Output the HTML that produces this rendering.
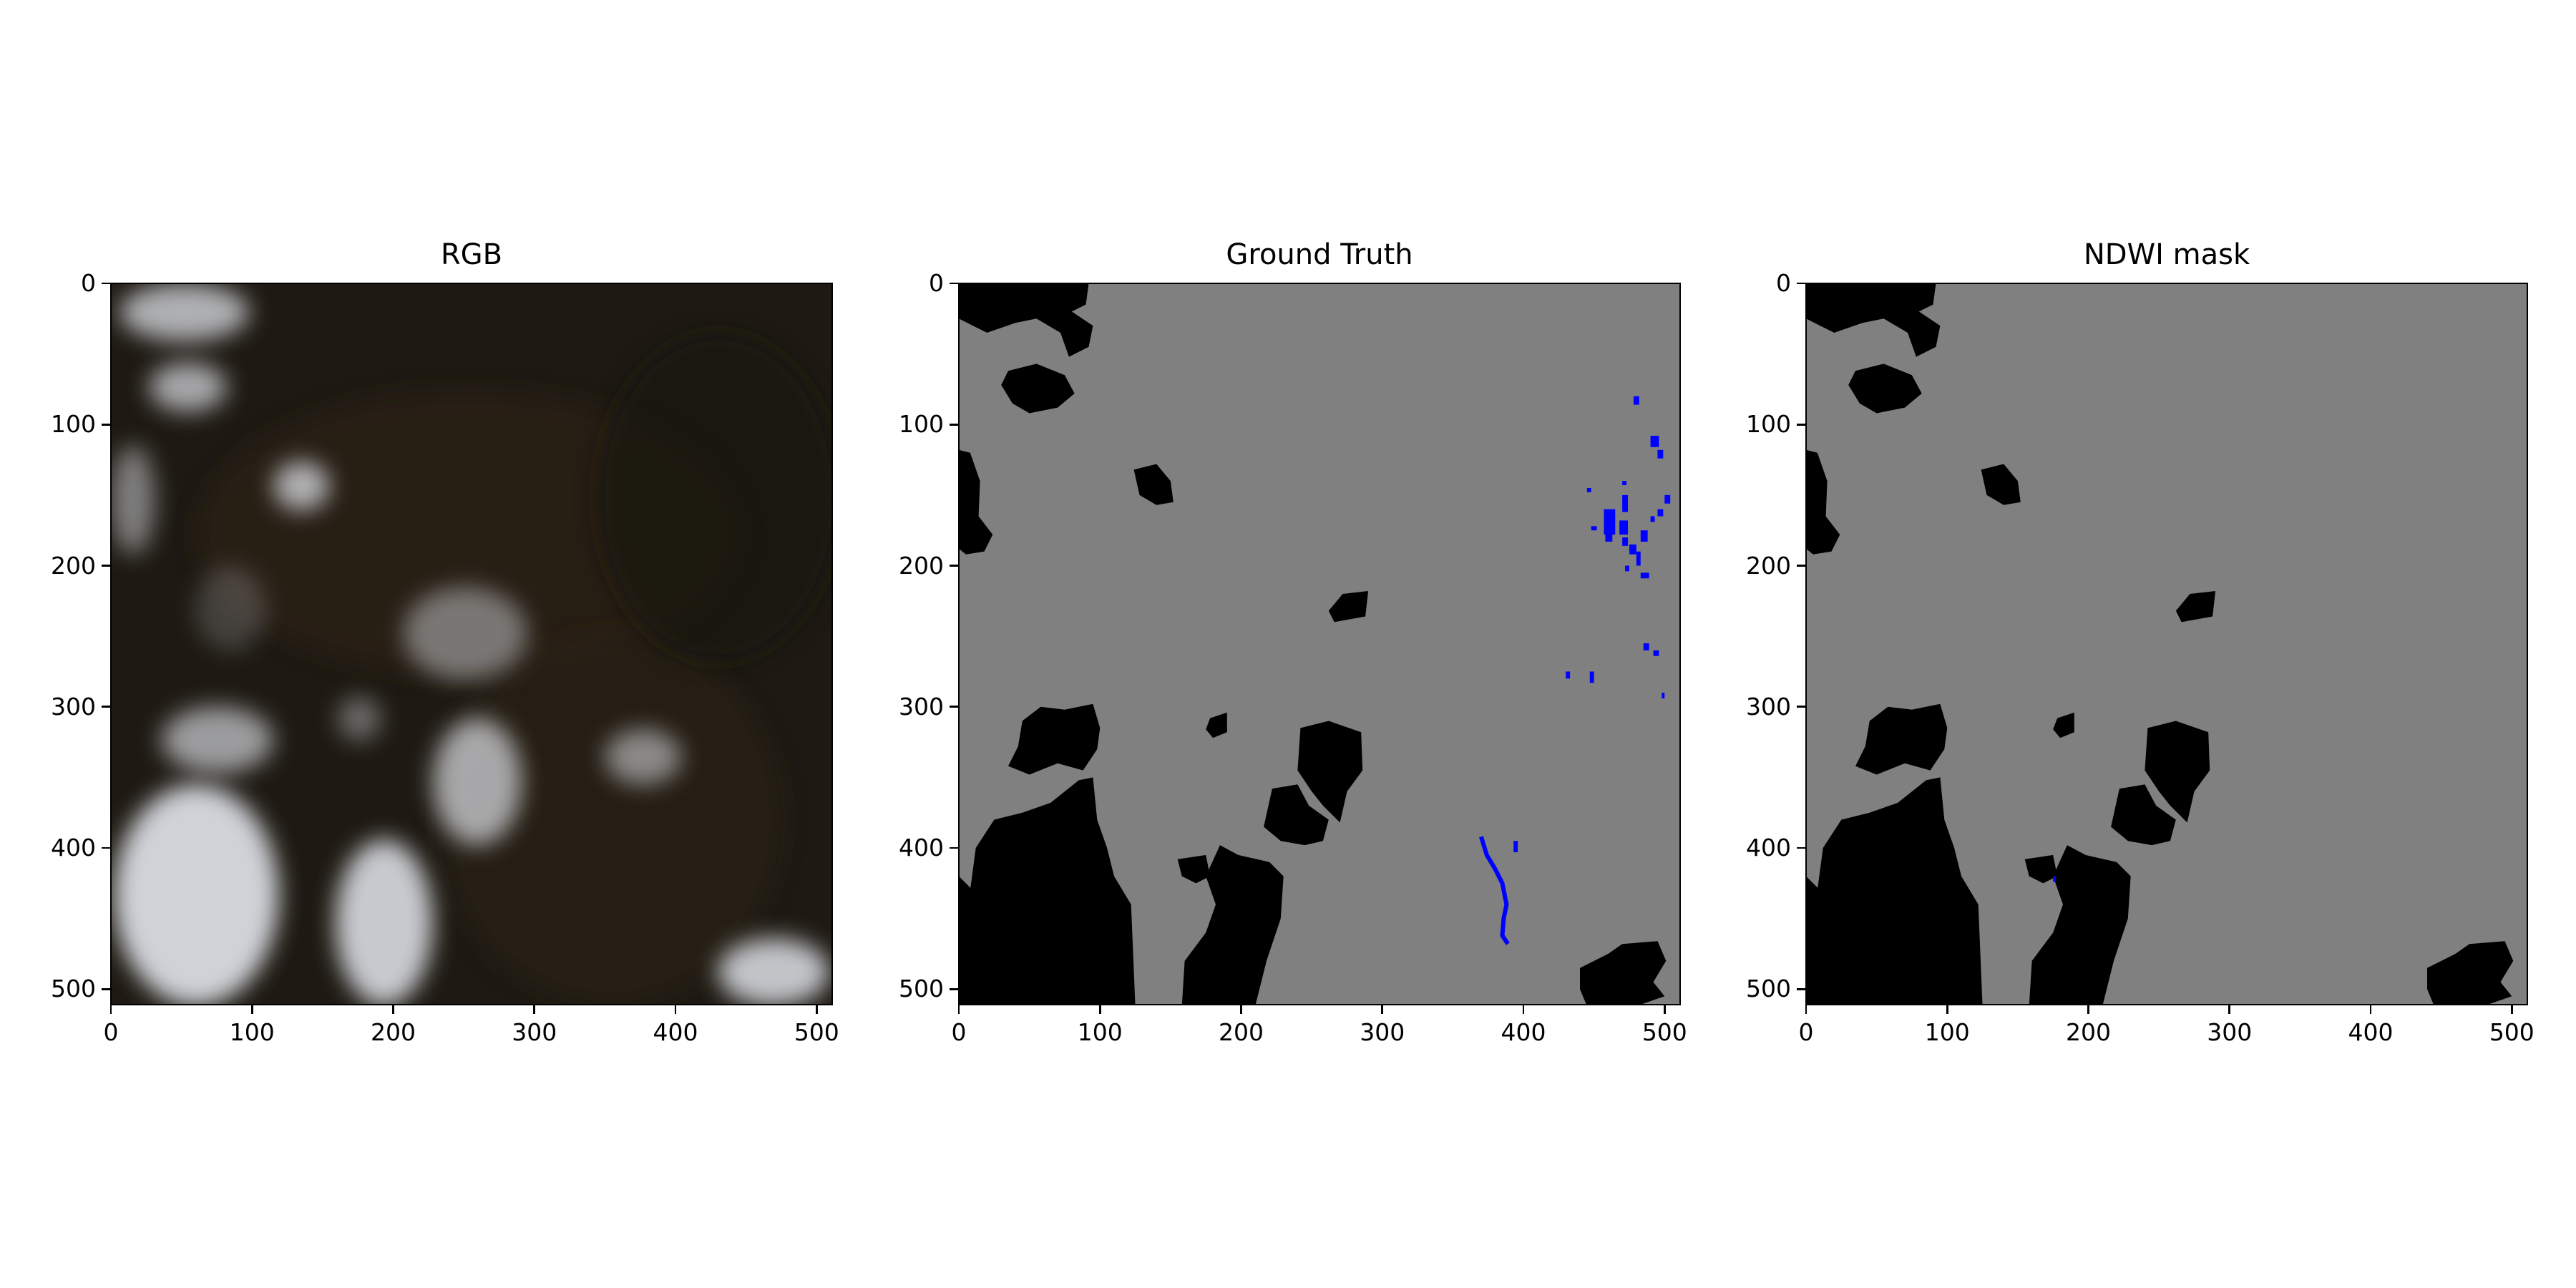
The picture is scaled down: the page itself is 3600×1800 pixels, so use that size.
<!DOCTYPE html>
<html><head><meta charset="utf-8">
<style>
body{margin:0;background:#fff;}
#fig{position:relative;width:3600px;height:1800px;background:#fff;font-family:"DejaVu Sans","Liberation Sans",sans-serif;color:#000;}
.title{position:absolute;font-size:40px;text-align:center;width:1010px;top:333px;}
.ax{position:absolute;top:395px;width:1010px;height:1010px;box-sizing:border-box;}
.frame{position:absolute;left:0;top:0;width:1010px;height:1010px;border:2.7px solid #000;box-sizing:border-box;pointer-events:none;}
.tl{position:absolute;font-size:33px;white-space:nowrap;}
.tk{position:absolute;background:#000;}
svg{position:absolute;left:0;top:0;}
</style></head><body>
<div id="fig"></div>
<script>
const tickValues=[0,100,200,300,400,500];
const panelTitles=["RGB","Ground Truth","NDWI mask"];
const panelLefts=[154,1339,2523];
// cloud blobs in RGB image: [x0,x1,y0,y1,opacity]
const cloudX0=[6,27,115,0,207,36,2,159,228,350,430,161,60];
const cloudX1=[98,82,155,31,295,115,119,228,291,404,509,191,110];
const cloudY0=[0,56,126,115,215,300,355,394,308,316,464,293,200];
const cloudY1=[41,91,161,192,281,347,512,512,398,355,512,324,260];
const cloudA=[0.75,0.7,0.75,0.5,0.45,0.65,0.92,0.88,0.7,0.55,0.85,0.4,0.2];
const blobs=[
[[0,0],[92,0],[90,15],[80,20],[95,30],[92,45],[78,52],[72,35],[55,25],[40,28],[20,35],[10,30],[0,25]],
[[35,62],[55,57],[75,65],[82,78],[70,88],[50,92],[38,85],[30,72]],
[[0,118],[8,120],[15,140],[14,165],[24,178],[18,190],[5,192],[0,188]],
[[124,132],[140,128],[150,140],[152,155],[140,157],[128,150]],
[[272,220],[290,218],[288,236],[266,240],[262,232]],
[[178,308],[190,304],[190,318],[180,322],[175,316]],
[[45,310],[58,300],[75,302],[95,298],[100,315],[98,330],[88,345],[70,340],[50,348],[35,342],[42,328]],
[[85,352],[95,350],[98,380],[105,400],[110,420],[122,440],[125,512],[0,512],[0,440],[8,430],[12,400],[25,380],[45,375],[65,368]],
[[242,315],[262,310],[285,318],[286,345],[275,360],[270,382],[258,370],[250,360],[240,345]],
[[222,358],[240,355],[248,370],[262,380],[258,395],[245,398],[228,395],[216,385]],
[[185,398],[198,405],[220,410],[230,420],[228,450],[218,480],[210,512],[158,512],[160,480],[175,460],[182,440],[175,420]],
[[155,408],[175,405],[178,420],[168,425],[158,420]],
[[440,485],[460,475],[470,468],[495,466],[501,480],[492,495],[500,505],[480,512],[445,512],[440,500]],
[[0,420],[10,430],[0,440]]
];
const waterX=[478,490,495,470,470,490,445,457,448,458,468,470,475,480,483,495,500,472,483,485,447,498,492,393,430];
const waterY=[80,108,118,140,150,165,145,160,172,175,168,180,185,190,175,160,150,200,205,255,275,290,260,395,275];
const waterW=[4,6,4,3,4,3,3,8,4,5,6,4,5,3,5,4,4,3,6,4,3,2,4,3,3];
const waterH=[6,8,6,3,12,4,3,18,3,8,10,6,7,10,8,5,6,4,4,5,8,4,4,8,5];
const riverPts=[[370,392],[374,405],[380,415],[385,425],[388,440],[386,450],[385,462],[389,468]];

const fig=document.getElementById('fig');
const W=1010;
const S=W/512;
const NS='http://www.w3.org/2000/svg';
function px(v){return (v+0.5)*S;}
function polyStr(p){return p.map(q=>px(q[0]).toFixed(1)+','+px(q[1]).toFixed(1)).join(' ');}

panelTitles.forEach((t,i)=>{
  const L=panelLefts[i];
  const title=document.createElement('div');
  title.className='title';title.style.left=L+'px';title.textContent=t;
  
  
  fig.appendChild(title);
  const ax=document.createElement('div');
  ax.className='ax';ax.style.left=L+'px';
  
  
  const svg=document.createElementNS(NS,'svg');
  svg.setAttribute('width',W);svg.setAttribute('height',W);
  let h='';
  if(i===0){
    h+='<defs><filter id="bl" filterUnits="userSpaceOnUse" x="-300" y="-300" width="1700" height="1700"><feGaussianBlur stdDeviation="16"/></filter><clipPath id="cp"><rect width="'+W+'" height="'+W+'"/></clipPath></defs>';
    h+='<rect width="'+W+'" height="'+W+'" fill="#1e1a13"/>';
    h+='<g clip-path="url(#cp)"><ellipse cx="500" cy="350" rx="380" ry="200" fill="#2e2218" opacity="0.6" filter="url(#bl)"/><ellipse cx="700" cy="750" rx="240" ry="260" fill="#2a2118" opacity="0.6" filter="url(#bl)"/><ellipse cx="850" cy="300" rx="170" ry="230" fill="#131510" opacity="0.6" filter="url(#bl)"/>';
    for(let k=0;k<cloudX0.length;k++){
      const cx=px((cloudX0[k]+cloudX1[k])/2),cy=px((cloudY0[k]+cloudY1[k])/2);
      const rx=(cloudX1[k]-cloudX0[k])/2*S,ry=(cloudY1[k]-cloudY0[k])/2*S;
      h+=`<ellipse cx="${cx}" cy="${cy}" rx="${rx}" ry="${ry}" fill="#dfe2e8" opacity="${cloudA[k]}" filter="url(#bl)"/>`;
    }
    h+='</g>';
  } else {
    h+='<rect width="'+W+'" height="'+W+'" fill="#808080"/>';
    blobs.forEach(b=>{h+=`<polygon points="${polyStr(b)}" fill="#000"/>`;});
    if(i===1){
      for(let k=0;k<waterX.length;k++){
        h+=`<rect x="${px(waterX[k])}" y="${px(waterY[k])}" width="${waterW[k]*S}" height="${waterH[k]*S}" fill="#0000ff"/>`;
      }
      h+=`<polyline points="${polyStr(riverPts)}" fill="none" stroke="#0000ff" stroke-width="6"/>`;
    } else {
      h+=`<rect x="${px(175)}" y="${px(420)}" width="4" height="8" fill="#0000ff"/>`;
    }
  }
  svg.innerHTML=h;
  ax.appendChild(svg);
  const fr=document.createElement('div');fr.className='frame';
  
  
  ax.appendChild(fr);
  fig.appendChild(ax);
  tickValues.forEach(v=>{
    const p=px(v);
    const xt=document.createElement('div');xt.className='tk';
    xt.style.cssText=`left:${L+p-1.3}px;top:${395+W}px;width:2.7px;height:12px;`;
    
    
    fig.appendChild(xt);
    const xl=document.createElement('div');xl.className='tl';
    xl.style.cssText=`left:${L+p-60}px;width:120px;text-align:center;top:${395+W+18}px;`;
    xl.textContent=v;
    
    
    fig.appendChild(xl);
    const yt=document.createElement('div');yt.className='tk';
    yt.style.cssText=`left:${L-12}px;top:${395+p-1.3}px;width:12px;height:2.7px;`;
    
    
    fig.appendChild(yt);
    const yl=document.createElement('div');yl.className='tl';
    yl.style.cssText=`left:${L-140}px;width:120px;text-align:right;top:${395+p-20}px;`;
    yl.textContent=v;
    
    
    fig.appendChild(yl);
  });
});
</script>
</body></html>
